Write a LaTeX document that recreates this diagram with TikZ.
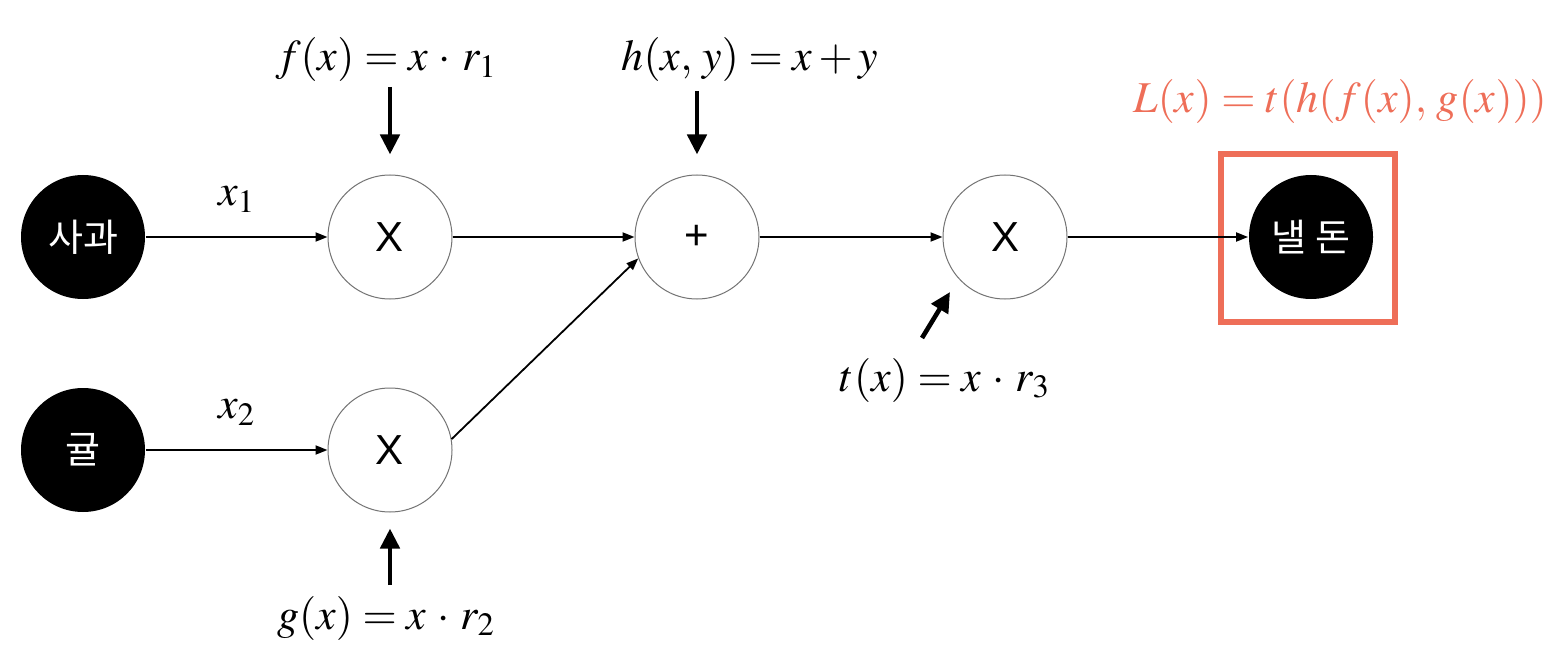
\documentclass[tikz,border=0pt]{standalone}
\usepackage{mathptmx}
\usepackage{fontspec}
\setsansfont{Liberation Sans}
\newfontfamily\krfont{Noto Sans CJK KR}
\usetikzlibrary{arrows.meta, positioning}
\definecolor{lossred}{RGB}{238,110,88}

\begin{document}
\begin{tikzpicture}[
    x=0.5pt, y=-0.5pt,
    ->, >={Triangle[length=6pt,width=4.5pt]}, line width=0.9pt,
    innode/.style={circle, fill=black, text=white, minimum size=62pt, inner sep=0pt, font=\krfont\fontsize{19}{19}\selectfont},
    opnode/.style={circle, draw=black!55, line width=0.5pt, minimum size=62pt, inner sep=0pt, font=\sffamily\fontsize{21}{21}\selectfont},
    fnlabel/.style={inner sep=2pt, font=\fontsize{22}{26}\selectfont},
    bigarrow/.style={-{Triangle[length=10pt,width=9.5pt]}, line width=2.3pt},
    lossbox/.style={draw=lossred, line width=2.6pt, minimum width=87pt, minimum height=84pt}
]
\useasboundingbox (0,0) rectangle (1562,652);

% inputs and operations
\node [innode] (apple)  at (83,237)   {사과};
\node [innode] (orange) at (83,450)   {귤};
\node [opnode] (mul1)   at (390,237)  {X};
\node [opnode] (mul2)   at (390,450)  {X};
\node [opnode] (add)    at (697,237)  {+};
\node [opnode] (mul3)   at (1005,237) {X};
\node [innode] (loss)   at (1311,237) {낼 돈};
\node [lossbox] (box)   at (1308,238) {};

% function labels
\node [fnlabel] (flabel) at (386,60)  {$f(x) = x \,\cdot\, r_1$};
\node [fnlabel] (hlabel) at (750,60)  {$h(x,\, y) = x + y$};
\node [fnlabel] (glabel) at (386,618) {$g(x) = x \,\cdot\, r_2$};
\node [fnlabel] (tlabel) at (945,380) {$t(x) = x \,\cdot\, r_3$};
\node [fnlabel, text=lossred] (llabel) at (1340,102) {$L(x) = t(h(f(x),\, g(x)))$};

% connectors
\draw (apple) -- node [above=10pt, fnlabel] {$x_1$} (mul1);
\draw (orange) -- node [above=10pt, fnlabel] {$x_2$} (mul2);
\draw (mul1) -- (add);
\draw (mul2.10) -- (add.200);
\draw (add) -- (mul3);
\draw (mul3) -- (loss);

% parameter arrows
\draw [bigarrow, shorten >=10pt] (flabel.south -| mul1.north) -- (mul1.north);
\draw [bigarrow, shorten >=10pt, shorten <=2pt] (hlabel.south -| add.north) -- (add.north);
\draw [bigarrow, shorten >=8pt, shorten <=3pt] (glabel.north -| mul2.south) -- (mul2.south);
\coordinate (ttail) at (922,338);
\coordinate (thead) at (950,292);
\draw [bigarrow] (ttail) -- (thead);

\end{tikzpicture}
\end{document}
